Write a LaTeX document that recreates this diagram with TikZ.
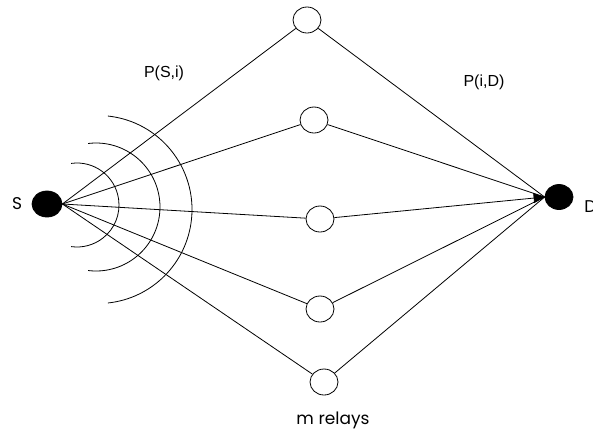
\documentclass[tikz,border=0pt]{standalone}
\usepackage{fontspec}
\setmainfont{Liberation Sans}
\newfontfamily\geofont{Poppins}
\usetikzlibrary{shapes.geometric,arrows.meta}
\begin{document}
\begin{tikzpicture}[x=1pt,y=-1pt,
  line width=0.8pt,
  terminal/.style={ellipse,fill=black,draw=black,minimum width=30pt,minimum height=26pt,inner sep=0pt},
  relay/.style={ellipse,draw=black,fill=white,minimum width=28pt,minimum height=26pt,inner sep=0pt},
  link/.style={draw=black,line width=0.8pt},
  wave/.style={draw=black,line width=0.8pt},
  lbl/.style={font=\fontsize{16}{18}\selectfont,inner sep=0pt},
  glbl/.style={font=\geofont\fontsize{17}{19}\selectfont,inner sep=0pt}]
\useasboundingbox (0,0) rectangle (593,432);
% waves
\draw[wave] (77,205) ++(-98:42) arc[start angle=-98,end angle=98,radius=42];
\draw[wave] (96,207) ++(-97:64) arc[start angle=-97,end angle=97,radius=64];
\draw[wave] (98,209.5) ++(-84:94) arc[start angle=-84,end angle=84,radius=94];
% nodes
\node[terminal] (S) at (47,204) {};
\node[terminal,minimum width=28pt,minimum height=25pt] (D) at (559,197) {};
\node[relay] (r1) at (307,20) {};
\node[relay] (r2) at (314,120) {};
\node[relay] (r3) at (320,219) {};
\node[relay] (r4) at (320,309) {};
\node[relay] (r5) at (324,382) {};
% links
\foreach \r in {r1,r2,r3,r4,r5}{
  \draw[link] (S.east) -- (\r);
}
\draw[link] (r1) -- (D.west);
\draw[link] (r2) -- (D.west);
\draw[link,-{Triangle[length=11pt,width=10pt]}] (r3) -- (D.west);
\draw[link] (r4) -- (D.west);
\draw[link] (r5) -- (D.west);
% labels
\node[glbl] (lS) at (17,204) {S};
\node[glbl,anchor=west] (lD) at (584,207) {D};
\node[lbl] (lSi) at (164,73) {P(S,i)};
\node[lbl] (liD) at (484,82) {P(i,D)};
\node[glbl] (lm) at (333,420) {m relays};
\end{tikzpicture}
\end{document}
